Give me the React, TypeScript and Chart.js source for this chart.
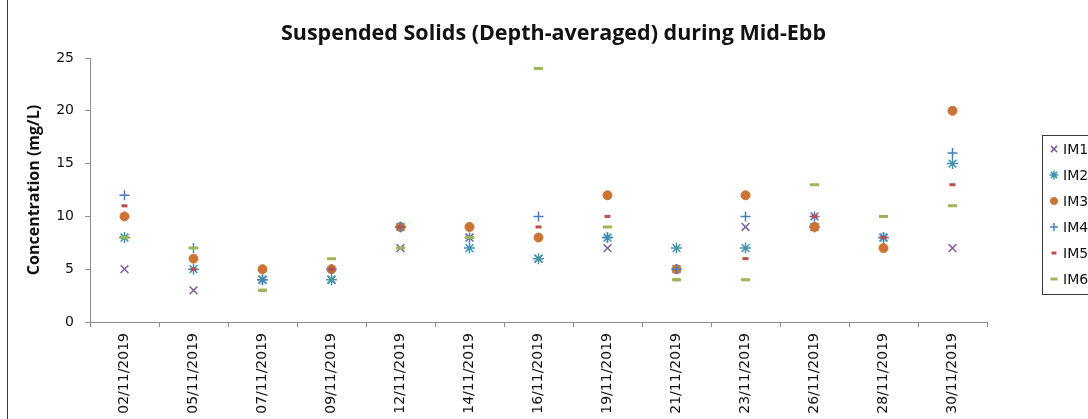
import React, { useEffect, useRef } from "react";
import { Chart, registerables } from "chart.js";
import { drawPoint } from "chart.js/helpers";

Chart.register(...registerables);

const TITLE = "Suspended Solids (Depth-averaged) during Mid-Ebb";
const Y_TITLE = "Concentration (mg/L)";

const categories = [
  "02/11/2019", "05/11/2019", "07/11/2019", "09/11/2019", "12/11/2019", "14/11/2019", "16/11/2019",
  "19/11/2019", "21/11/2019", "23/11/2019", "26/11/2019", "28/11/2019", "30/11/2019",
];

const seriesNames = ["IM1", "IM2", "IM3", "IM4", "IM5", "IM6"];
const im1 = [5, 3, 4, 4, 7, 8, 6, 7, 5, 9, 10, 8, 7];
const im2 = [8, 5, 4, 4, 9, 7, 6, 8, 7, 7, 9, 8, 15];
const im3 = [10, 6, 5, 5, 9, 9, 8, 12, 5, 12, 9, 7, 20];
const im4 = [12, 7, 4, 5, 9, 8, 10, 8, 5, 10, 10, 8, 16];
const im5 = [11, 5, 3, 5, 9, 8, 9, 10, 4, 6, 10, 8, 13];
const im6 = [8, 7, 3, 6, 7, 8, 24, 9, 4, 4, 13, 10, 11];

const yTicks = [0, 5, 10, 15, 20, 25];

const CANVAS_W = 1110;
const CANVAS_H = 419;

const styles = [
  { color: "#7B5C9E", pointStyle: "crossRot", radius: 5.5, borderWidth: 1.5 },
  { color: "#3D96AE", pointStyle: "star", radius: 5.5, borderWidth: 1.5 },
  { color: "#CC7433", pointStyle: "circle", radius: 4.5, borderWidth: 1 },
  { color: "#4A7EBB", pointStyle: "cross", radius: 5, borderWidth: 1.5 },
  { color: "#BE4B48", pointStyle: "line", radius: 3, borderWidth: 3 },
  { color: "#98B954", pointStyle: "line", radius: 4.5, borderWidth: 3 },
];

const decorPlugin = {
  id: "decor",
  beforeDraw(chart: any) {
    const ctx = chart.ctx;
    ctx.save();
    ctx.fillStyle = "#ffffff";
    ctx.fillRect(0, 0, chart.width, chart.height);
    ctx.strokeStyle = "#3a3a3a";
    ctx.lineWidth = 1;
    ctx.strokeRect(7.5, -10, chart.width, chart.height + 20);
    ctx.restore();
  },
  afterDraw(chart: any) {
    const ctx = chart.ctx;
    ctx.save();
    // title
    ctx.fillStyle = "#111";
    ctx.font = 'bold 21.5px "Open Sans"';
    ctx.textAlign = "center";
    ctx.textBaseline = "alphabetic";
    ctx.fillText(TITLE, 553.5, 40);
    // legend box
    ctx.strokeStyle = "#3a3a3a";
    ctx.lineWidth = 1;
    ctx.strokeRect(1042.5, 135.5, 120, 159);
    ctx.font = '14px "DejaVu Sans"';
    ctx.textBaseline = "middle";
    ctx.textAlign = "left";
    chart.data.datasets.forEach((ds: any, i: number) => {
      const y = 149 + i * 26;
      const st = styles[i];
      ctx.strokeStyle = st.color;
      ctx.fillStyle = st.color;
      ctx.lineWidth = st.borderWidth;
      drawPoint(ctx, { pointStyle: st.pointStyle, radius: st.radius * 0.8, rotation: 0, borderWidth: st.borderWidth } as any, 1054, y);
      ctx.fillStyle = "#111";
      ctx.fillText(ds.label, 1063, y + 1);
    });
    ctx.restore();
  },
};

export default function App() {
  const ref = useRef<HTMLCanvasElement>(null);
  useEffect(() => {
    const canvas = ref.current!;
    const data = [im1, im2, im3, im4, im5, im6];
    const chart = new Chart(canvas, {
      type: "line",
      data: {
        labels: categories,
        datasets: data.map((d, i) => ({
          label: seriesNames[i],
          data: d,
          showLine: false,
          order: 6 - i,
          pointStyle: styles[i].pointStyle as any,
          pointRadius: styles[i].radius,
          pointBorderWidth: styles[i].borderWidth,
          pointBorderColor: styles[i].color,
          pointBackgroundColor: styles[i].color,
          borderColor: styles[i].color,
          backgroundColor: styles[i].color,
        })),
      },
      options: {
        animation: false,
        responsive: false,
        devicePixelRatio: 1,
        layout: { padding: { left: 0, right: CANVAS_W - 987, top: 58, bottom: 0 } },
        plugins: {
          legend: { display: false },
          tooltip: { enabled: false },
          title: { display: false },
        },
        scales: {
          x: {
            type: "category",
            offset: true,
            grid: { display: true, offset: true, drawOnChartArea: false, drawTicks: true, tickLength: 5, color: "#8c8c8c" },
            border: { display: true, color: "#8c8c8c" },
            ticks: {
              minRotation: 90,
              maxRotation: 90,
              autoSkip: false,
              padding: 6,
              color: "#111",
              font: { family: '"DejaVu Sans"', size: 14 },
            },
            afterFit: (s: any) => {
              s.height = 97;
            },
          },
          y: {
            min: 0,
            max: 25,
            afterBuildTicks: (s: any) => {
              s.ticks = yTicks.map((v) => ({ value: v }));
            },
            grid: { display: true, drawOnChartArea: false, drawTicks: true, tickLength: 5, color: "#8c8c8c" },
            border: { display: true, color: "#8c8c8c" },
            ticks: {
              padding: 11,
              color: "#111",
              font: { family: '"DejaVu Sans"', size: 14 },
            },
            title: {
              display: true,
              text: Y_TITLE,
              color: "#111",
              font: { family: '"Open Sans"', size: 16, weight: "bold" },
              padding: { top: 25, bottom: 0 },
            },
            afterFit: (s: any) => {
              s.width = 90;
            },
          },
        },
      },
      plugins: [decorPlugin],
    });
    return () => chart.destroy();
  }, []);

  return (
    <div style={{ position: "fixed", left: 0, top: 0, width: 1088, height: 419, overflow: "hidden", background: "#fff" }}>
      <canvas ref={ref} width={CANVAS_W} height={CANVAS_H} style={{ width: CANVAS_W, height: CANVAS_H, display: "block" }} />
    </div>
  );
}
